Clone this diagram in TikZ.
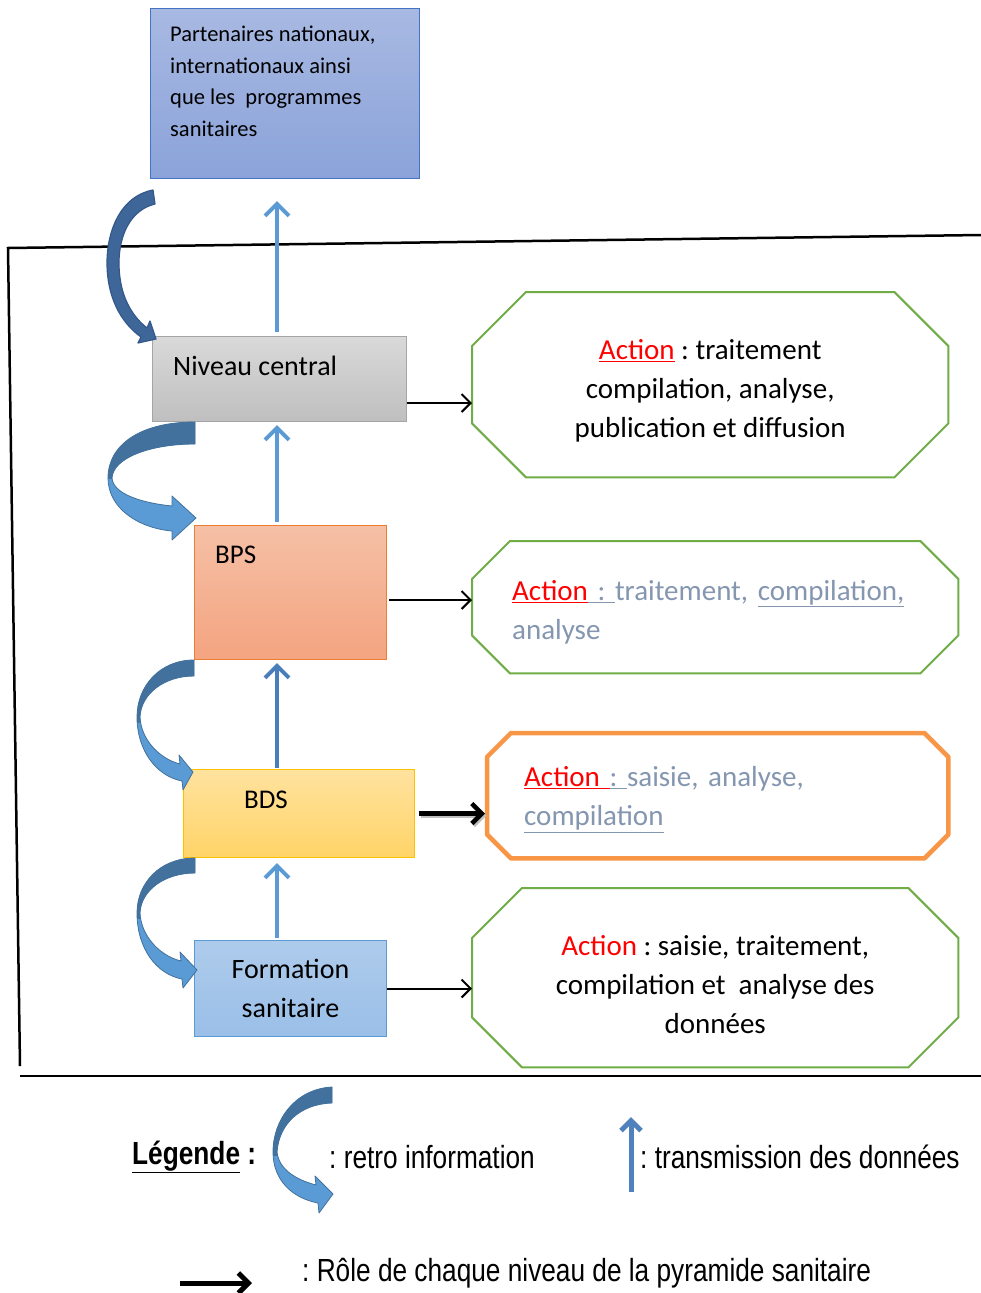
\documentclass[tikz,border=0pt]{standalone}
\usepackage{fontspec}
\setmainfont{Carlito}
\newfontfamily\narrowfont[FakeStretch=0.82]{Liberation Sans}
\usetikzlibrary{arrows.meta,calc}
\frenchspacing
\definecolor{upblue}{HTML}{5B9BD5}
\definecolor{upblued}{HTML}{4A7EBB}
\definecolor{legblue}{HTML}{4F81BD}
\definecolor{darkb}{HTML}{41719C}
\definecolor{lightb}{HTML}{5B9BD5}
\definecolor{topb}{HTML}{3F6699}
\definecolor{topbd}{HTML}{34588A}
\definecolor{grtxt}{HTML}{8496B0}
\definecolor{octgreen}{HTML}{70AD47}
\definecolor{octorange}{HTML}{F79646}
\definecolor{actred}{HTML}{FF0000}
\definecolor{partline}{HTML}{4472C4}
\definecolor{parttop}{HTML}{A8B9E2}
\definecolor{partbot}{HTML}{8BA3DA}
\definecolor{ncline}{HTML}{A5A5A5}
\definecolor{nctop}{HTML}{D9D9D9}
\definecolor{ncbot}{HTML}{BFBFBF}
\definecolor{bpsline}{HTML}{ED7D31}
\definecolor{bpstop}{HTML}{F5C0A6}
\definecolor{bpsbot}{HTML}{F4A480}
\definecolor{bdsline}{HTML}{FFC000}
\definecolor{bdstop}{HTML}{FFE29E}
\definecolor{bdsbot}{HTML}{FFD468}
\definecolor{fsline}{HTML}{5B9BD5}
\definecolor{fstop}{HTML}{AECBEB}
\definecolor{fsbot}{HTML}{9ABFE8}
\newcommand\octo[3]{%
  \draw[#3] ($(#1.north west)+(#2,0)$) -- ($(#1.north east)+(-#2,0)$) -- ($(#1.north east)+(0,#2)$) -- ($(#1.south east)+(0,-#2)$) -- ($(#1.south east)+(-#2,0)$) -- ($(#1.south west)+(#2,0)$) -- ($(#1.south west)+(0,-#2)$) -- ($(#1.north west)+(0,#2)$) -- cycle;}
\newcommand\curvarrow[2]{%
  \fill[lightb] #1;
  \begin{scope}\clip (0,0) rectangle (981,#2); \fill[darkb] #1; \end{scope}
  \draw[darkb, line width=0.8pt, line join=round] #1;}
\begin{document}
\begin{tikzpicture}[x=1pt,y=-1pt,
  lbox/.style={draw, line width=1pt, inner sep=0pt, anchor=north west},
  octnode/.style={inner sep=0pt, anchor=north west},
  octtext/.style={inner sep=0pt, font=\fontsize{29}{39}\selectfont},
  uparr/.style={draw=upblue, line width=4pt, -{Straight Barb[length=12pt,width=24pt]}},
  rolearr/.style={draw=black, line width=2pt, -{Straight Barb[length=9pt,width=18pt]}},
  legtext/.style={font=\narrowfont\fontsize{32}{38}\selectfont, anchor=west, inner sep=0pt}]
\useasboundingbox (0,0) rectangle (981,1293);
\fill[white] (0,0) rectangle (981,1293);

% frame lines
\draw[line width=2.5pt] (981,235) -- (8,248) -- (20,1066);
\draw[line width=2.5pt] (20,1076) -- (981,1076);

% left boxes
\node[lbox, draw=partline, top color=parttop, bottom color=partbot, minimum width=269pt, minimum height=170pt] (part) at (150,8) {};
\node[anchor=north west, inner sep=0pt, align=left, font=\fontsize{22.5}{31.5}\selectfont] (parttxt) at (170,26) {Partenaires nationaux,\\internationaux ainsi\\que les~ programmes\\sanitaires};

\node[lbox, draw=ncline, top color=nctop, bottom color=ncbot, minimum width=254pt, minimum height=85pt] (nc) at (152,336) {};
\node[anchor=west, inner sep=0pt, font=\fontsize{28}{34}\selectfont] (nctxt) at (173,366) {Niveau central};

\node[lbox, draw=bpsline, top color=bpstop, bottom color=bpsbot, minimum width=192pt, minimum height=134pt] (bps) at (194,525) {};
\node[anchor=west, inner sep=0pt, font=\fontsize{27}{34}\selectfont] (bpstxt) at (215,555) {BPS};

\node[lbox, draw=bdsline, top color=bdstop, bottom color=bdsbot, minimum width=231pt, minimum height=88pt] (bds) at (183,769) {};
\node[anchor=west, inner sep=0pt, font=\fontsize{27}{34}\selectfont] (bdstxt) at (244,800) {BDS};

\node[lbox, draw=fsline, top color=fstop, bottom color=fsbot, minimum width=192pt, minimum height=96pt, align=center, font=\fontsize{28}{39}\selectfont] (fs) at (194,940) {Formation\\sanitaire};

% octagon boxes
\node[octnode, minimum width=476pt, minimum height=185pt] (o1) at (472,292) {};
\octo{o1}{54}{draw=octgreen, line width=2pt}
\node[octtext, align=center] (o1t) at ([yshift=-6pt]o1.center)
  {{\color{actred}\underline{Action}} : traitement\\compilation, analyse,\\publication et diffusion};

\node[octnode, minimum width=486pt, minimum height=132pt] (o2) at (472,541) {};
\octo{o2}{38}{draw=octgreen, line width=2pt}
\node[octtext, align=left, text width=404pt, text=grtxt] (o2t) at ([xshift=-1pt,yshift=-5pt]o2.center)
  {{\color{actred}\underline{Action}}\underline{ :\ }traitement, \underline{compilation,}\\analyse};

\node[octnode, minimum width=461pt, minimum height=125pt] (o3) at (487,733) {};
\octo{o3}{24}{draw=octorange, line width=4.5pt, line join=round}
\node[octtext, align=left, text width=387pt, text=grtxt] (o3t) at ([yshift=-4pt]o3.center)
  {{\color{actred}\underline{Action\ }}\underline{:\ }saisie, analyse,\\\underline{compilation}};

\node[octnode, minimum width=486pt, minimum height=179pt] (o4) at (472,888) {};
\octo{o4}{50}{draw=octgreen, line width=2pt}
\node[octtext, align=center] (o4t) at ([yshift=-7pt]o4.center)
  {{\color{actred}Action} : saisie, traitement,\\compilation et~ analyse des\\données};

% transmission arrows
\coordinate (ax) at (277,0);
\draw[uparr, shorten <=4pt, shorten >=22pt] (nc.north -| ax) -- (part.south -| ax);
\draw[uparr, shorten <=3pt, shorten >=3pt] (bps.north -| ax) -- (nc.south -| ax);
\draw[uparr, draw=upblued, shorten <=1pt, shorten >=3pt] (bds.north -| ax) -- (bps.south -| ax);
\draw[uparr, shorten <=2pt, shorten >=5pt] (fs.north -| ax) -- (bds.south -| ax);

% role arrows
\coordinate (r1) at (0,403);
\coordinate (r2) at (0,600);
\draw[rolearr] (nc.east |- r1) -- (o1.west |- r1);
\draw[rolearr, shorten <=2pt] (bps.east |- r2) -- (o2.west |- r2);
\draw[black!25, line width=4.5pt, -{Straight Barb[length=10pt,width=20pt]}, shorten <=4pt, shorten >=2pt] ([shift={(1.5,2)}]bds.east) -- ([shift={(1.5,2)}]o3.west |- bds.east);
\draw[line width=4.5pt, -{Straight Barb[length=10pt,width=20pt]}, shorten <=4pt, shorten >=2pt] (bds.east) -- (o3.west |- bds.east);
\draw[rolearr] (fs.east) -- (o4.west |- fs.east);

% curved feedback arrows
\fill[topb, line join=round] (153,190) .. controls (121,196) and (107,230) .. (107,263) .. controls (107,296) and (120,322) .. (141,337) -- (138,343) -- (156,339) -- (150,321) -- (147,328) .. controls (128,313) and (119,290) .. (119,263) .. controls (119,236) and (130,210) .. (155,204) -- cycle;
\draw[topbd, line width=1.2pt, line join=round] (153,190) .. controls (121,196) and (107,230) .. (107,263) .. controls (107,296) and (120,322) .. (141,337) -- (138,343) -- (156,339) -- (150,321) -- (147,328) .. controls (128,313) and (119,290) .. (119,263) .. controls (119,236) and (130,210) .. (155,204) -- cycle;

\curvarrow{(195,422) .. controls (140,422) and (108,445) .. (108,478) .. controls (108,508) and (138,528) .. (172,531) -- (172,540) -- (196,518) -- (172,496) -- (172,506) .. controls (142,503) and (113,494) .. (112,478) .. controls (113,458) and (150,444) .. (195,444) -- cycle}{478}

\curvarrow{(194,660) .. controls (160,660) and (137,686) .. (137,717) .. controls (137,750) and (156,776) .. (182,781) -- (183,790) -- (193,772) -- (179,755) -- (180,764) .. controls (160,759) and (141,740) .. (140,717) .. controls (141,694) and (164,676) .. (194,676) -- cycle}{722}

\curvarrow{(195,858) .. controls (160,858) and (137,883) .. (137,913) .. controls (137,948) and (156,974) .. (182,979) -- (183,988) -- (197,970) -- (180,952) -- (181,961) .. controls (160,956) and (141,936) .. (140,913) .. controls (141,890) and (165,873) .. (195,873) -- cycle}{918}

% legend
\node[legtext, font=\narrowfont\bfseries\fontsize{32}{38}\selectfont] (leg) at (132,1157) {\underline{Légende} :};
\curvarrow{(332,1087) .. controls (295,1089) and (273,1120) .. (273,1152) .. controls (273,1180) and (292,1198) .. (318,1203) -- (319,1213) -- (333,1194) -- (315,1176) -- (316,1185) .. controls (297,1180) and (279,1170) .. (277,1152) .. controls (279,1124) and (300,1104) .. (332,1103) -- cycle}{1155}
\node[legtext] (legretro) at (329,1157) {: retro information};
\coordinate (lu1) at (631,1192);
\coordinate (lu2) at (631,1117);
\draw[draw=legblue, line width=5pt, -{Straight Barb[length=10pt,width=20pt]}] (lu1) -- (lu2);
\node[legtext] (legtrans) at (640,1157) {: transmission des données};
\coordinate (lr1) at (180,1283);
\coordinate (lr2) at (252,1283);
\draw[line width=5pt, -{Straight Barb[length=10pt,width=20pt]}] (lr1) -- (lr2);
\node[legtext] (legrole) at (302,1273) {: Rôle de chaque niveau de la pyramide sanitaire};
\end{tikzpicture}
\end{document}
